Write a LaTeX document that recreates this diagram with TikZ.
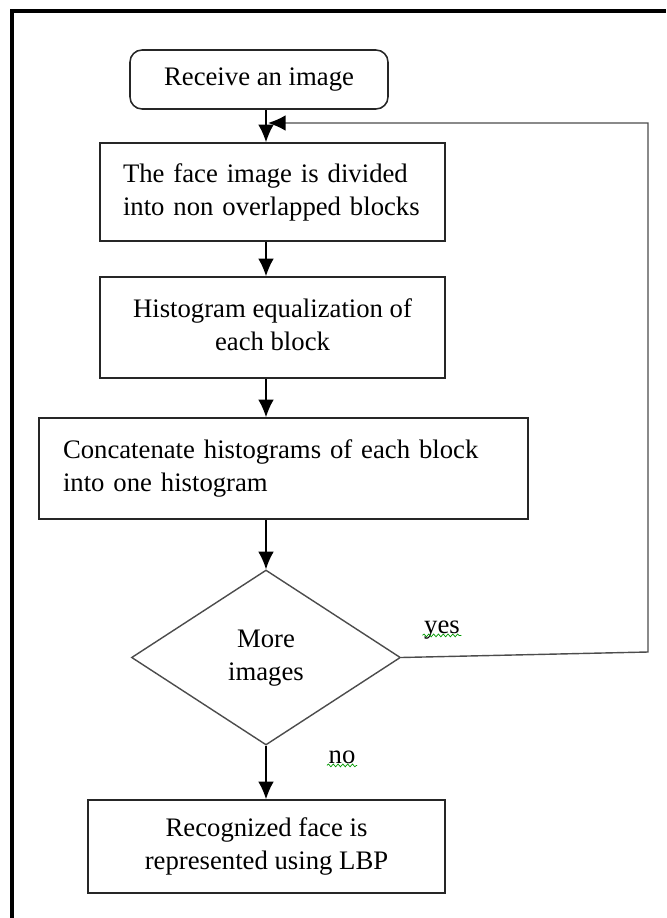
\documentclass[tikz,border=0pt]{standalone}
\usepackage{fontspec}
\setmainfont{Liberation Serif}
\usetikzlibrary{shapes.geometric,arrows.meta,decorations.pathmorphing}
\tikzstyle{stepbox}=[draw=black!85,line width=1.1pt,inner sep=0pt,font=\fontsize{19}{23.5}\selectfont]
\tikzstyle{startbox}=[stepbox,rounded corners=3mm]
\tikzstyle{leftbox}=[stepbox,align=left]
\tikzstyle{test}=[diamond,draw=black!70,line width=1pt,inner sep=0pt,font=\fontsize{19}{23.5}\selectfont]
\tikzstyle{answer}=[anchor=base,inner sep=1pt,font=\fontsize{19}{23.5}\selectfont]
\tikzstyle{spell}=[draw=green!60!black,line width=.5pt,decorate,decoration={snake,amplitude=.35mm,segment length=1.2mm}]
\tikzset{>={Latex[length=4.4mm,width=3.9mm]}}
\tikzstyle{flow}=[->,line width=1pt,black]
\tikzstyle{back}=[-{Latex[length=4.4mm,width=3.9mm,black]},line width=1pt,black!70]

\begin{document}
\begin{tikzpicture}[scale=1]
    \useasboundingbox (0,0) rectangle (16.65,-22.95);
    \draw[line width=2.2pt] (0.3,-22.95) -- (0.3,-0.275) -- (16.65,-0.275);

    \node[startbox,minimum width=6.45cm,minimum height=1.475cm] (receive) at (6.475,-1.9875) {Receive an image};
    \node[leftbox,minimum height=2.45cm,text width=7.475cm,inner xsep=.575cm] (divide) at (6.8125,-4.8) {\begin{tabular}{@{}l@{}}The face image is divided\\ into non overlapped blocks\end{tabular}};
    \node[stepbox,minimum width=8.625cm,minimum height=2.525cm] (histeq) at (6.8125,-8.1875) {\begin{tabular}{@{}c@{}}Histogram equalization of\\ each block\end{tabular}};
    \node[leftbox,minimum height=2.525cm,text width=11.025cm,inner xsep=.6cm] (concat) at (7.0875,-11.7125) {\begin{tabular}{@{}l@{}}Concatenate histograms of each block\\ into one histogram\end{tabular}};
    \node[test,minimum width=6.725cm,minimum height=4.375cm] (more) at (6.65,-16.4375) {\begin{tabular}{@{}c@{}}More\\ images\end{tabular}};
    \node[stepbox,minimum width=8.925cm,minimum height=2.325cm] (lbp) at (6.6625,-21.1625) {\begin{tabular}{@{}c@{}}Recognized face is\\ represented using LBP\end{tabular}};

    \node[answer] (yes) at (11.05,-15.825) {yes};
    \node[answer] (no) at (8.55,-19.075) {no};
    \draw[spell] ([yshift=-.6mm]yes.base west) -- ([yshift=-.6mm]yes.base east);
    \draw[spell] ([yshift=-.6mm]no.base west) -- ([yshift=-.6mm]no.base east);

    \coordinate (loopbottom) at (16.2,-16.3);
    \coordinate (looptop) at (16.2,-3.075);
    \coordinate (reenter) at (6.7,-3.075);

    \draw[flow] (receive.south -| more) -- (divide.north -| more);
    \draw[flow] (divide.south -| more) -- (histeq.north -| more);
    \draw[flow] (histeq.south -| more) -- (concat.north -| more);
    \draw[flow] (concat.south -| more) -- (more.north);
    \draw[flow] (more.south) -- (lbp.north -| more);
    \draw[back] (more.east) -- (loopbottom) -- (looptop) -- (reenter);
\end{tikzpicture}
\end{document}
